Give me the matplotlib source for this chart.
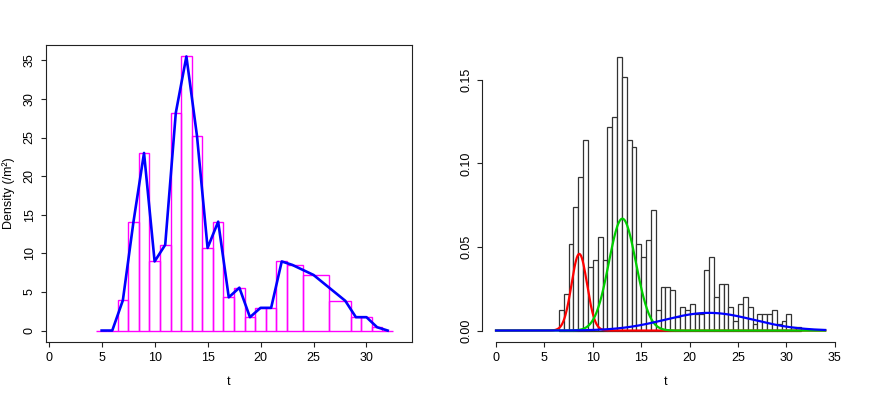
import numpy as np
import matplotlib.pyplot as plt

plt.rcParams['font.family'] = ['Liberation Sans', 'DejaVu Sans']
plt.rcParams['font.size'] = 9

# left panel: density per m2 at each t (bars span halfway to neighbours)
t_left = [5, 6, 7, 8, 9, 10, 11, 12, 13, 14, 15, 16, 17, 18, 19, 20, 21,
          22, 23, 25, 28, 29, 30, 31, 32]
dens_left = [0, 0, 3.9, 14.05, 23.0, 8.95, 11.1, 28.2, 35.5, 25.2, 10.7,
             14.1, 4.3, 5.55, 1.73, 2.94, 2.94, 8.95, 8.5, 7.2, 3.85, 1.73,
             1.73, 0.43, 0]

# right panel: histogram (bin width 0.5) and fitted components
bin_starts = [6.5, 7.0, 7.5, 8.0, 8.5, 9.0, 9.5, 10.0, 10.5, 11.0, 11.5,
              12.0, 12.5, 13.0, 13.5, 14.0, 14.5, 15.0, 15.5, 16.0, 16.5,
              17.0, 17.5, 18.0, 18.5, 19.0, 19.5, 20.0, 20.5, 21.0, 21.5,
              22.0, 22.5, 23.0, 23.5, 24.0, 24.5, 25.0, 25.5, 26.0, 26.5,
              27.0, 27.5, 28.0, 28.5, 29.0, 29.5, 30.0, 30.5, 31.0]
hist_dens = [0.012, 0.022, 0.052, 0.074, 0.092, 0.114, 0.038, 0.042, 0.056,
             0.042, 0.122, 0.128, 0.164, 0.152, 0.114, 0.110, 0.052, 0.044,
             0.054, 0.072, 0.012, 0.026, 0.026, 0.024, 0.008, 0.014, 0.012,
             0.016, 0.010, 0.010, 0.036, 0.044, 0.020, 0.028, 0.028, 0.014,
             0.006, 0.016, 0.020, 0.014, 0.004, 0.010, 0.010, 0.010, 0.012,
             0.004, 0.006, 0.010, 0.002, 0.002]
bin_width = 0.5

comp_mean = [8.6, 13.05, 22.0]
comp_sd = [0.8, 1.4, 4.6]
comp_weight = [0.092, 0.235, 0.122]
comp_color = ['#FF0000', '#00CD00', '#0000FF']

fig = plt.figure(figsize=(8.72, 3.99), dpi=100)
ax1 = fig.add_axes([0.0528, 0.1441, 0.4197, 0.7419])
ax2 = fig.add_axes([0.5533, 0.1441, 0.4197, 0.7419])

# ---- left panel
t = np.array(t_left, dtype=float)
mids = (t[1:] + t[:-1]) / 2
edges = np.concatenate([[t[0] - 0.5], mids, [t[-1] + 0.5]])
ax1.bar(edges[:-1], dens_left, width=np.diff(edges), align='edge',
        fill=False, edgecolor='#FF00FF', linewidth=1)
ax1.plot(t_left, dens_left, color='#0000FF', linewidth=1.9)
ax1.set_xlim(-0.25, 34.3)
ax1.set_ylim(-1.42, 36.92)
ax1.set_xticks([0, 5, 10, 15, 20, 25, 30])
ax1.set_yticks([0, 5, 10, 15, 20, 25, 30, 35])
ax1.set_xlabel('t', labelpad=9)
ax1.set_ylabel('Density (/m²)', labelpad=6)

# ---- right panel
ax2.bar(bin_starts, hist_dens, width=bin_width, align='edge',
        facecolor='white', edgecolor='#333333', linewidth=0.9)
xs = np.linspace(0, 34, 400)
for m, s, w, c in zip(comp_mean, comp_sd, comp_weight, comp_color):
    ys = w * np.exp(-0.5 * ((xs - m) / s) ** 2) / (s * np.sqrt(2 * np.pi))
    ax2.plot(xs, ys, color=c, linewidth=1.6)
ax2.set_xlim(-1.4, 36.4)
ax2.set_ylim(-0.00656, 0.1706)
ax2.set_xticks([0, 5, 10, 15, 20, 25, 30, 35])
ax2.set_yticks([0.00, 0.05, 0.10, 0.15])
ax2.set_yticklabels(['0.00', '0.05', '0.10', '0.15'])
ax2.set_xlabel('t', labelpad=9)
ax2.spines['top'].set_visible(False)
ax2.spines['right'].set_visible(False)
ax2.spines['left'].set_bounds(0, 0.15)
ax2.spines['bottom'].set_bounds(0, 35)

for ax in (ax1, ax2):
    for sp in ax.spines.values():
        sp.set_color('#222222')
        sp.set_linewidth(0.8)
    ax.tick_params(direction='out', length=3.5, width=0.8, color='#222222',
                   pad=4)
    for lab in ax.get_yticklabels():
        lab.set_rotation(90)
        lab.set_va('center')

fig.savefig('out.png', dpi=100)
